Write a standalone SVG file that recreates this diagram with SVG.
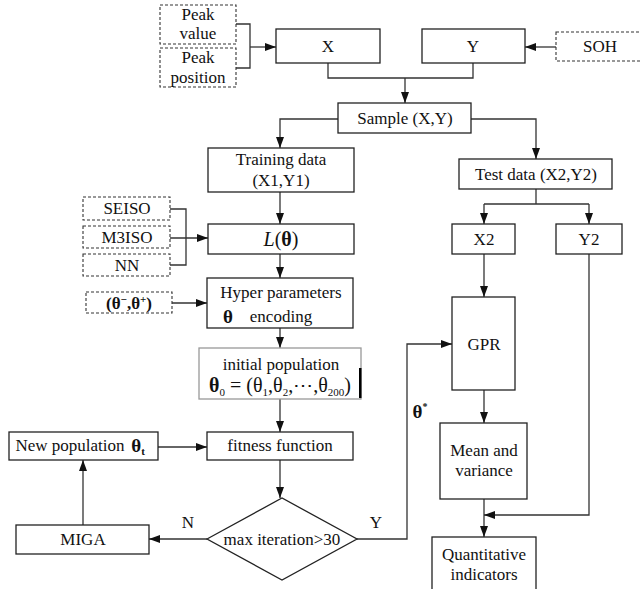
<svg xmlns="http://www.w3.org/2000/svg" width="641" height="589" viewBox="0 0 641 589">
<style>
text{font-family:'Liberation Serif','DejaVu Serif','Times New Roman',serif;font-size:17px;fill:#111;text-anchor:middle}
.b{fill:#fff;stroke:#222;stroke-width:1.3}
.d{fill:#fff;stroke:#333;stroke-width:1.1;stroke-dasharray:3,2}
.g{fill:#fff;stroke:#999;stroke-width:1.3}
.c{fill:none;stroke:#333;stroke-width:1.3}
.bf{font-weight:bold}
</style>
<defs>
<marker id="ah" markerWidth="11" markerHeight="8" refX="11" refY="4" orient="auto" markerUnits="userSpaceOnUse">
<path d="M0,0 L11,4 L0,8 Z" fill="#111"/>
</marker>
</defs>
<g id="connectors">
<path class="c" d="M236,24 H250 V68 H236"/>
<path class="c" d="M250,47 H276" marker-end="url(#ah)"/>
<path class="c" d="M556,47 H525" marker-end="url(#ah)"/>
<path class="c" d="M328,63 V78 H473 V63"/>
<path class="c" d="M405,78 V103" marker-end="url(#ah)"/>
<path class="c" d="M338,119 H280 V148" marker-end="url(#ah)"/>
<path class="c" d="M471,119 H536 V159" marker-end="url(#ah)"/>
<path class="c" d="M280,192 V224" marker-end="url(#ah)"/>
<path class="c" d="M170,209 H186 V265 H170"/>
<path class="c" d="M170,238 H208" marker-end="url(#ah)"/>
<path class="c" d="M280,254 V278" marker-end="url(#ah)"/>
<path class="c" d="M172,303 H207" marker-end="url(#ah)"/>
<path class="c" d="M280,328 V348" marker-end="url(#ah)"/>
<path class="c" d="M280,399 V432" marker-end="url(#ah)"/>
<path class="c" d="M280,460 V498" marker-end="url(#ah)"/>
<path class="c" d="M207,539 H149" marker-end="url(#ah)"/>
<path class="c" d="M83,525 V460" marker-end="url(#ah)"/>
<path class="c" d="M158,447 H207" marker-end="url(#ah)"/>
<path class="c" d="M357,539 H407 V344 H452" marker-end="url(#ah)"/>
<path class="c" d="M536,189 V204"/>
<path class="c" d="M484,204 H589"/>
<path class="c" d="M484,204 V224" marker-end="url(#ah)"/>
<path class="c" d="M589,204 V224" marker-end="url(#ah)"/>
<path class="c" d="M484,254 V297" marker-end="url(#ah)"/>
<path class="c" d="M484,390 V423" marker-end="url(#ah)"/>
<path class="c" d="M484,499 V537" marker-end="url(#ah)"/>
<path class="c" d="M589,254 V515 H484" marker-end="url(#ah)"/>
</g>
<g id="peak_value"><rect class="d" x="160" y="5" width="76" height="39"/><text x="198" y="20">Peak</text><text x="198" y="39">value</text></g>
<g id="peak_position"><rect class="d" x="160" y="48" width="76" height="39"/><text x="198" y="63">Peak</text><text x="198" y="83">position</text></g>
<g id="X"><rect class="b" x="276" y="29" width="104" height="34"/><text x="328" y="52">X</text></g>
<g id="Y"><rect class="b" x="422" y="29" width="103" height="34"/><text x="473" y="52">Y</text></g>
<g id="SOH"><rect class="d" x="556" y="32" width="90" height="29"/><text x="600" y="52">SOH</text></g>
<g id="sample"><rect class="b" x="338" y="103" width="133" height="30"/><text x="405" y="124">Sample (X,Y)</text></g>
<g id="training"><rect class="b" x="208" y="148" width="146" height="44"/><text x="281" y="165">Training data</text><text x="281" y="186">(X1,Y1)</text></g>
<g id="test"><rect class="b" x="459" y="159" width="153" height="30"/><text x="536" y="180">Test data (X2,Y2)</text></g>
<g id="SEISO"><rect class="d" x="83" y="197" width="87" height="23"/><text x="127" y="214">SEISO</text></g>
<g id="M3ISO"><rect class="d" x="83" y="226" width="87" height="22"/><text x="127" y="243">M3ISO</text></g>
<g id="NN"><rect class="d" x="83" y="254" width="87" height="22"/><text x="127" y="271">NN</text></g>
<g id="L"><rect class="b" x="208" y="224" width="146" height="30"/><text x="281" y="246" style="font-size:20px"><tspan font-style="italic">L</tspan>(<tspan class="bf">θ</tspan>)</text></g>
<g id="X2"><rect class="b" x="452" y="224" width="63" height="30"/><text x="484" y="245">X2</text></g>
<g id="Y2"><rect class="b" x="556" y="224" width="66" height="30"/><text x="589" y="245">Y2</text></g>
<g id="bounds"><rect class="d" x="86" y="292" width="86" height="21"/><text x="129" y="309" class="bf">(θ<tspan dy="-6" font-size="11">−</tspan><tspan dy="6">,θ</tspan><tspan dy="-6" font-size="11">+</tspan><tspan dy="6">)</tspan></text></g>
<g id="hyper"><rect class="b" x="207" y="278" width="146" height="50"/><text x="281" y="298">Hyper parameters</text><text x="228" y="323" class="bf" style="font-size:19px">θ</text><text x="281" y="322">encoding</text></g>
<g id="initial"><rect class="g" x="199" y="348" width="162" height="51"/><text x="281" y="370">initial population</text><text x="280" y="392" style="font-size:20px"><tspan class="bf">θ</tspan><tspan dy="4" font-size="11">0</tspan><tspan dy="-4"> = (θ</tspan><tspan dy="4" font-size="11">1</tspan><tspan dy="-4">,θ</tspan><tspan dy="4" font-size="11">2</tspan><tspan dy="-4">,⋯,θ</tspan><tspan dy="4" font-size="11">200</tspan><tspan dy="-4">)</tspan></text><rect x="359" y="368" width="2.5" height="30" fill="#000"/></g>
<g id="newpop"><rect class="b" x="9" y="432" width="149" height="28"/><text x="70" y="451">New population</text><text x="138" y="452" class="bf" style="font-size:19px">θ<tspan dy="3" font-size="11">t</tspan></text></g>
<g id="fitness"><rect class="b" x="207" y="432" width="146" height="28"/><text x="280" y="451">fitness function</text></g>
<g id="GPR"><rect class="b" x="452" y="297" width="63" height="93"/><text x="484" y="350">GPR</text></g>
<g id="theta_star"><text x="420" y="418" class="bf" style="font-size:19px">θ<tspan dy="-8" font-size="10">*</tspan></text></g>
<g id="MIGA"><rect class="b" x="16" y="525" width="133" height="29"/><text x="83" y="545">MIGA</text></g>
<g id="diamond"><path class="b" d="M207,539 L282,498 L357,539 L282,580 Z"/><text x="282" y="545">max iteration&gt;30</text><text x="188" y="528">N</text><text x="376" y="528">Y</text></g>
<g id="mean"><rect class="b" x="440" y="423" width="87" height="76"/><text x="484" y="456">Mean and</text><text x="484" y="476">variance</text></g>
<g id="quant"><rect class="b" x="432" y="537" width="104" height="60"/><text x="484" y="560">Quantitative</text><text x="484" y="580">indicators</text></g>
</svg>
